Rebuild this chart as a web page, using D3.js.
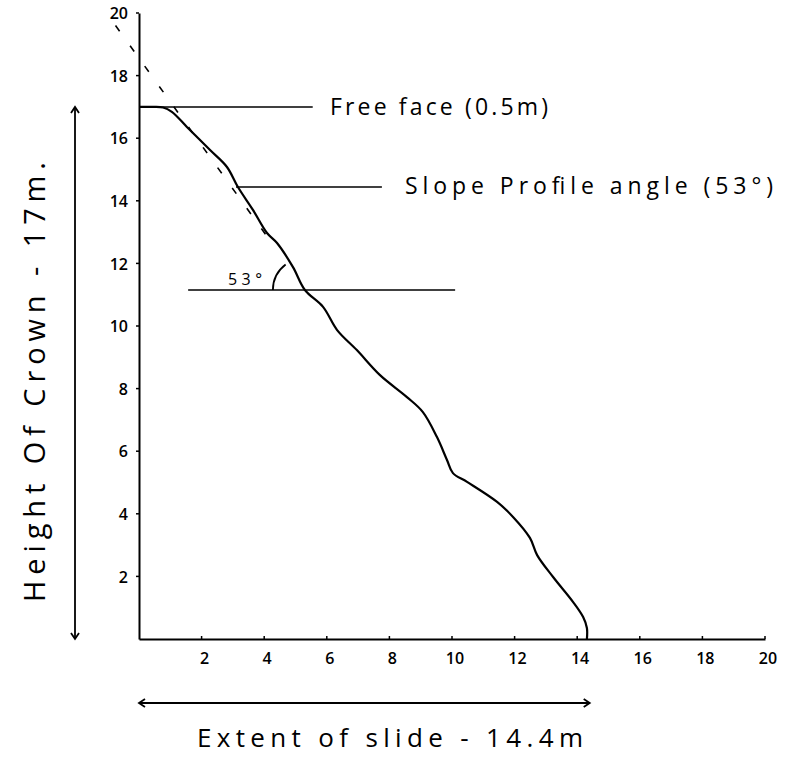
<!DOCTYPE html>
<html>
<head>
<meta charset="utf-8">
<script src="https://cdn.jsdelivr.net/npm/d3@7"></script>
<style>
  html, body { margin: 0; padding: 0; background: #fff; }
  svg text { font-family: "Open Sans", "DejaVu Sans", sans-serif; fill: #000; }
</style>
</head>
<body>
<svg id="chart" width="786" height="773"></svg>
<script>
// Surveyed slope profile: horizontal distance (m) vs height (m)
const profileX = [0, 0.45, 0.77, 1.05, 1.53, 2.27, 2.81, 3.16, 3.64, 4.09, 4.41, 4.92, 5.30, 5.88, 6.33, 6.96, 7.70, 8.56, 9.07, 9.52, 9.84, 10.03, 10.48, 11.44, 11.95, 12.49, 12.72, 13.23, 13.87, 14.19, 14.31, 14.31];
const profileY = [17, 17, 16.98, 16.84, 16.36, 15.62, 15.08, 14.44, 13.71, 12.97, 12.65, 11.88, 11.15, 10.61, 9.87, 9.23, 8.43, 7.73, 7.25, 6.45, 5.72, 5.30, 5.02, 4.38, 3.90, 3.23, 2.68, 1.98, 1.18, 0.70, 0.35, 0];

// Tick values on both axes
const xTicks = [2, 4, 6, 8, 10, 12, 14, 16, 18, 20];
const yTicks = [2, 4, 6, 8, 10, 12, 14, 16, 18, 20];

// Dashed slope-angle line (end points, metres)
const slopeLineX = [-0.75, 4.35];
const slopeLineY = [19.6, 12.5];

// Annotation lines: [y, xStart, xEnd]
const freeFaceLine = [17, 0, 5.55];
const profileAngleLine = [14.44, 3.1, 7.76];
const angleBaseLine = [11.15, 1.57, 10.1];

// Angle marker: vertex and angle in degrees
const angleVertex = [5.30, 11.15];
const slopeAngle = 53;

// Dimension arrows
const crownHeight = 17;
const slideExtent = 14.4;

const svg = d3.select("#chart");
const x = d3.scaleLinear().domain([0, 20]).range([139, 765]);
const y = d3.scaleLinear().domain([0, 20]).range([639, 13]);

const ink = "#000";

// Axes
const xAxis = d3.axisBottom(x).tickValues(xTicks).tickSize(0).tickPadding(14).tickFormat(d3.format("d"));
const yAxis = d3.axisLeft(y).tickValues(yTicks).tickSize(0).tickPadding(11).tickFormat(d3.format("d"));

const gx = svg.append("g").attr("transform", `translate(0,${y(0)})`).call(xAxis);
const gy = svg.append("g").attr("transform", `translate(${x(0)},0)`).call(yAxis);
[gx, gy].forEach(g => {
  g.select(".domain").attr("stroke", ink).attr("stroke-width", 2);
  g.selectAll("text").attr("font-size", 16).attr("font-weight", 600).attr("fill", ink);
});
gx.selectAll("text").attr("dx", "0.15em");
gy.selectAll("text").attr("dy", "0.35em");

// small hand-drawn tick nubs
svg.append("g").selectAll("line").data(xTicks).join("line")
  .attr("x1", d => x(d)).attr("x2", d => x(d))
  .attr("y1", y(0)).attr("y2", y(0) - 3)
  .attr("stroke", ink).attr("stroke-width", 1.5);
svg.append("g").selectAll("line").data(yTicks).join("line")
  .attr("x1", x(0)).attr("x2", x(0) - 3)
  .attr("y1", d => y(d)).attr("y2", d => y(d))
  .attr("stroke", ink).attr("stroke-width", 1.5);

// Annotation lines
[freeFaceLine, profileAngleLine, angleBaseLine].forEach(([yy, x0, x1]) => {
  svg.append("line")
    .attr("x1", x(x0)).attr("x2", x(x1))
    .attr("y1", y(yy)).attr("y2", y(yy))
    .attr("stroke", ink).attr("stroke-width", 1.5);
});

// Dashed slope line
svg.append("line")
  .attr("x1", x(slopeLineX[0])).attr("y1", y(slopeLineY[0]))
  .attr("x2", x(slopeLineX[1])).attr("y2", y(slopeLineY[1]))
  .attr("stroke", ink).attr("stroke-width", 1.6)
  .attr("stroke-dasharray", "7 18");

// Profile
const profile = profileX.map((d, i) => [d, profileY[i]]);
svg.append("path")
  .datum(profile)
  .attr("fill", "none")
  .attr("stroke", ink)
  .attr("stroke-width", 2.2)
  .attr("stroke-linejoin", "round")
  .attr("d", d3.line().x(d => x(d[0])).y(d => y(d[1])).curve(d3.curveCatmullRom.alpha(0.5)));

// Angle arc at the vertex
const vx = x(angleVertex[0]), vy = y(angleVertex[1]);
const r = 32;
const arc = d3.arc()
  .innerRadius(r).outerRadius(r)
  .startAngle(-Math.PI / 2)
  .endAngle(-Math.PI / 2 + slopeAngle * Math.PI / 180);
svg.append("path")
  .attr("transform", `translate(${vx},${vy})`)
  .attr("d", arc())
  .attr("fill", "none")
  .attr("stroke", ink)
  .attr("stroke-width", 1.8);

// Dimension arrows
const arrowLen = 6;
function arrowHead(px, py, dir) {
  const pts = {
    up: [[px - 4, py + arrowLen], [px, py], [px + 4, py + arrowLen]],
    down: [[px - 4, py - arrowLen], [px, py], [px + 4, py - arrowLen]],
    left: [[px + arrowLen, py - 4], [px, py], [px + arrowLen, py + 4]],
    right: [[px - arrowLen, py - 4], [px, py], [px - arrowLen, py + 4]]
  }[dir];
  svg.append("path").attr("d", d3.line()(pts))
    .attr("fill", "none").attr("stroke", ink).attr("stroke-width", 1.8);
}
const hx = 75;
svg.append("line").attr("x1", hx).attr("x2", hx)
  .attr("y1", y(crownHeight)).attr("y2", y(0))
  .attr("stroke", ink).attr("stroke-width", 1.8);
arrowHead(hx, y(crownHeight), "up");
arrowHead(hx, y(0), "down");

const ey = 703;
svg.append("line").attr("x1", x(0)).attr("x2", x(slideExtent))
  .attr("y1", ey).attr("y2", ey)
  .attr("stroke", ink).attr("stroke-width", 1.8);
arrowHead(x(0), ey, "left");
arrowHead(x(slideExtent), ey, "right");

// Labels
function label(txt, px, py, size, len, opts = {}) {
  const t = svg.append("text")
    .attr("x", px).attr("y", py)
    .attr("font-size", size)
    .attr("font-weight", opts.weight || 400)
    .text(txt);
  if (len) t.attr("textLength", len).attr("lengthAdjust", "spacing");
  if (opts.rotate) t.attr("transform", `rotate(${opts.rotate},${px},${py})`);
  return t;
}
label("Free face (0.5m)", 330, 115, 23, 218);
label("Slope Profile angle (53°)", 405, 194, 23, 368);
label("53°", 228, 285, 16, 34);
label("Extent of slide - 14.4m", 197, 747, 26, 386);
label("Height Of Crown - 17m.", 45, 602, 29, 440, { rotate: -90 });
</script>
</body>
</html>
